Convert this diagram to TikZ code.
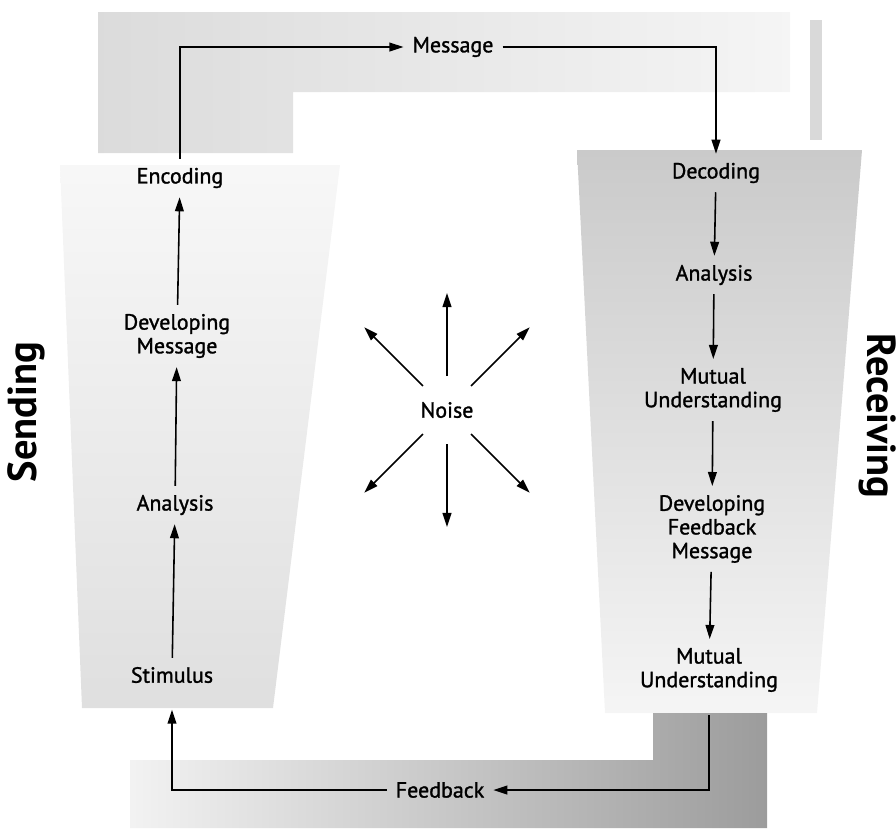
\documentclass[tikz,border=0pt]{standalone}
\usepackage{fontspec}
\setmainfont{PT Sans}
\newfontfamily\labelfont[FakeBold=1.3]{PT Sans}
\usetikzlibrary{arrows.meta}
\definecolor{bandgray}{HTML}{9C9C9C}
\definecolor{panelgray}{HTML}{CACACA}

\begin{document}
\begin{tikzpicture}[x=0.02cm,y=-0.02cm,
  lbl/.style={font=\labelfont\fontsize{12.5}{13.5}\selectfont,align=center,inner sep=5pt},
  side/.style={font=\fontsize{23}{26}\selectfont\bfseries,inner sep=0pt},
  arr/.style={line width=0.9pt,-{Triangle[length=8pt,width=5pt]}}]
  \useasboundingbox (0,0) rectangle (896,833);
  % gray bands and panels
  \shade[left color=gray!28,right color=gray!8] (98,12) -- (790,12) -- (790,92) -- (293,92) -- (293,153) -- (98,153) -- cycle;
  \fill[gray!30] (810,20) rectangle (822,140);
  \shade[top color=gray!6,bottom color=gray!25] (60,165) -- (340,165) -- (273,708) -- (82,708) -- cycle;
  \shade[top color=panelgray,bottom color=gray!8] (577,150) -- (862,150) -- (817,713) -- (605,713) -- cycle;
  \shade[left color=gray!10,right color=bandgray] (130,760) -- (653,760) -- (653,713) -- (767,713) -- (767,828) -- (130,828) -- cycle;
  % sending side
  \node[lbl] (enc) at (180,178) {Encoding};
  \node[lbl] (devm) at (177,336) {Developing\\Message};
  \node[lbl] (anl) at (175,505) {Analysis};
  \node[lbl] (stim) at (172,675) {Stimulus};
  % receiving side
  \node[lbl] (dec) at (716,173) {Decoding};
  \node[lbl] (anr) at (714,275) {Analysis};
  \node[lbl] (mut1) at (713,390) {Mutual\\Understanding};
  \node[lbl] (fbm) at (712,529) {Developing\\Feedback\\Message};
  \node[lbl] (mut2) at (709,670) {Mutual\\Understanding};
  % channel
  \node[lbl] (msg) at (453,47) {Message};
  \node[lbl] (fb) at (440,790) {Feedback};
  \node[lbl] (noise) at (447,410) {Noise};
  \node[side,rotate=90] (send) at (26,412) {Sending};
  \node[side,rotate=-90] (recv) at (878,416) {Receiving};
  \draw[arr] (stim) -- (anl);
  \draw[arr] (anl) -- (devm);
  \draw[arr] (devm) -- (enc);
  \draw[arr] (enc.north) |- (msg.west);
  \draw[arr] (msg.east) -| (dec.north);
  \draw[arr] (dec) -- (anr);
  \draw[arr] (anr) -- (mut1);
  \draw[arr] (mut1) -- (fbm);
  \draw[arr] (fbm) -- (mut2);
  \draw[arr,shorten <=8pt] (mut2.south) |- (fb.east);
  \draw[arr,shorten >=10pt] (fb.west) -| (stim.south);
  \foreach \a in {45,90,135,225,270,315}
    \draw[arr] ([shift={(\a:34)}]noise.center) -- ([shift={(\a:117)}]noise.center);
\end{tikzpicture}
\end{document}
